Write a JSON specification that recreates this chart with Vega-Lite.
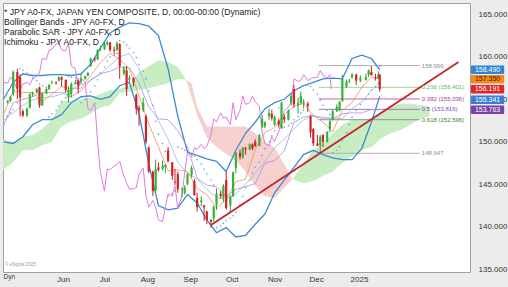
{
  "$schema": "https://vega.github.io/schema/vega-lite/v6.json",
  "width": 467,
  "height": 269,
  "autosize": "none",
  "padding": {"left": 3, "top": 3, "right": 38, "bottom": 15},
  "background": "#ececec",
  "title": {
    "text": ["* JPY A0-FX, JAPAN YEN COMPOSITE, D, 00:00-00:00 (Dynamic)", "Bollinger Bands - JPY A0-FX, D", "Parabolic SAR - JPY A0-FX, D", "Ichimoku - JPY A0-FX, D"],
    "anchor": "start", "frame": "group", "orient": "top", "baseline": "top", "offset": -44, "dx": 1,
    "font": "Liberation Sans Narrow, Arial Narrow, sans-serif", "fontSize": 8.6, "fontWeight": "normal", "color": "#222", "lineHeight": 10.2
  },
  "config": {
    "view": {"fill": "white", "stroke": "#a0a0a0", "strokeWidth": 1},
    "scale": {"continuousPadding": 0},
    "axis": {"labelFont": "Liberation Sans Narrow, Arial Narrow, sans-serif", "labelColor": "#333", "grid": false, "ticks": false, "domain": false}
  },
  "resolve": {"scale": {"color": "independent"}},
  "datasets": {
    "candles": [
      {"d":"2024-04-22","o":154.6,"h":154.9,"l":154.5,"c":154.8,"s":153.0,"k":"2024-03-18"},
      {"d":"2024-04-24","o":154.8,"h":155.4,"l":154.7,"c":155.3,"s":153.4,"k":"2024-03-20"},
      {"d":"2024-04-26","o":155.6,"h":158.4,"l":155.4,"c":158.2,"s":153.8,"k":"2024-03-22"},
      {"d":"2024-04-29","o":158.2,"h":158.6,"l":155.0,"c":156.3,"s":154.6,"k":"2024-03-25"},
      {"d":"2024-05-01","o":157.6,"h":157.9,"l":153.0,"c":155.2,"s":158.6,"k":"2024-03-27"},
      {"d":"2024-05-03","o":153.6,"h":153.8,"l":152.9,"c":153.1,"s":158.4,"k":"2024-03-29"},
      {"d":"2024-05-06","o":153.1,"h":154.0,"l":152.9,"c":153.9,"s":158.1,"k":"2024-04-01"},
      {"d":"2024-05-08","o":154.0,"h":155.7,"l":153.9,"c":155.6,"s":157.8,"k":"2024-04-03"},
      {"d":"2024-05-10","o":155.6,"h":155.9,"l":155.3,"c":155.8,"s":157.5,"k":"2024-04-05"},
      {"d":"2024-05-13","o":155.8,"h":156.3,"l":155.7,"c":156.2,"s":157.2,"k":"2024-04-08"},
      {"d":"2024-05-15","o":156.4,"h":156.5,"l":154.0,"c":154.3,"s":156.8,"k":"2024-04-10"},
      {"d":"2024-05-17","o":154.3,"h":155.8,"l":154.2,"c":155.7,"s":156.6,"k":"2024-04-12"},
      {"d":"2024-05-20","o":155.7,"h":156.3,"l":155.6,"c":156.2,"s":156.4,"k":"2024-04-15"},
      {"d":"2024-05-22","o":156.2,"h":156.8,"l":156.1,"c":156.7,"s":152.9,"k":"2024-04-17"},
      {"d":"2024-05-24","o":156.9,"h":157.2,"l":156.8,"c":157.0,"s":153.3,"k":"2024-04-19"},
      {"d":"2024-05-27","o":157.0,"h":157.1,"l":156.7,"c":156.9,"s":153.7,"k":"2024-04-22"},
      {"d":"2024-05-29","o":157.2,"h":157.7,"l":157.1,"c":157.6,"s":154.2,"k":"2024-04-24"},
      {"d":"2024-05-31","o":157.6,"h":157.7,"l":156.5,"c":157.3,"s":154.7,"k":"2024-04-26"},
      {"d":"2024-06-03","o":157.3,"h":157.3,"l":155.8,"c":156.1,"s":155.2,"k":"2024-04-29"},
      {"d":"2024-06-05","o":155.2,"h":156.5,"l":154.6,"c":156.1,"s":157.7,"k":"2024-05-01"},
      {"d":"2024-06-07","o":155.6,"h":157.0,"l":155.2,"c":156.8,"s":157.6,"k":"2024-05-03"},
      {"d":"2024-06-10","o":156.8,"h":157.3,"l":156.7,"c":157.0,"s":157.5,"k":"2024-05-06"},
      {"d":"2024-06-12","o":157.2,"h":157.3,"l":155.7,"c":156.7,"s":157.4,"k":"2024-05-08"},
      {"d":"2024-06-14","o":157.1,"h":158.0,"l":156.8,"c":157.4,"s":154.6,"k":"2024-05-10"},
      {"d":"2024-06-17","o":157.4,"h":157.8,"l":157.3,"c":157.7,"s":155.0,"k":"2024-05-13"},
      {"d":"2024-06-19","o":157.8,"h":158.2,"l":157.7,"c":158.1,"s":155.4,"k":"2024-05-15"},
      {"d":"2024-06-21","o":158.9,"h":159.9,"l":158.8,"c":159.8,"s":155.9,"k":"2024-05-17"},
      {"d":"2024-06-24","o":159.8,"h":159.9,"l":159.4,"c":159.7,"s":156.6,"k":"2024-05-20"},
      {"d":"2024-06-26","o":159.7,"h":160.9,"l":159.6,"c":160.8,"s":157.3,"k":"2024-05-22"},
      {"d":"2024-06-28","o":160.8,"h":161.3,"l":160.7,"c":160.9,"s":158.1,"k":"2024-05-24"},
      {"d":"2024-07-01","o":160.9,"h":161.7,"l":160.8,"c":161.5,"s":158.8,"k":"2024-05-27"},
      {"d":"2024-07-03","o":161.5,"h":161.9,"l":161.3,"c":161.7,"s":159.5,"k":"2024-05-29"},
      {"d":"2024-07-05","o":161.7,"h":161.7,"l":160.6,"c":160.8,"s":160.0,"k":"2024-05-31"},
      {"d":"2024-07-08","o":160.8,"h":161.2,"l":160.3,"c":160.7,"s":160.2,"k":"2024-06-03"},
      {"d":"2024-07-10","o":160.8,"h":161.8,"l":160.7,"c":161.6,"s":160.4,"k":"2024-06-05"},
      {"d":"2024-07-12","o":161.5,"h":161.6,"l":157.4,"c":158.9,"s":161.9,"k":"2024-06-07"},
      {"d":"2024-07-15","o":158.0,"h":158.9,"l":157.8,"c":158.6,"s":161.7,"k":"2024-06-10"},
      {"d":"2024-07-17","o":158.4,"h":158.9,"l":155.4,"c":156.2,"s":161.4,"k":"2024-06-12"},
      {"d":"2024-07-19","o":157.3,"h":157.8,"l":157.0,"c":157.5,"s":161.0,"k":"2024-06-14"},
      {"d":"2024-07-22","o":157.5,"h":157.6,"l":156.5,"c":157.0,"s":160.5,"k":"2024-06-17"},
      {"d":"2024-07-24","o":155.5,"h":155.7,"l":153.2,"c":153.9,"s":159.9,"k":"2024-06-19"},
      {"d":"2024-07-26","o":154.0,"h":154.3,"l":151.9,"c":153.7,"s":159.1,"k":"2024-06-21"},
      {"d":"2024-07-29","o":153.7,"h":155.2,"l":153.5,"c":154.6,"s":158.3,"k":"2024-06-24"},
      {"d":"2024-07-31","o":153.0,"h":153.2,"l":149.7,"c":150.0,"s":157.4,"k":"2024-06-26"},
      {"d":"2024-08-02","o":149.3,"h":149.5,"l":146.3,"c":146.5,"s":156.0,"k":"2024-06-28"},
      {"d":"2024-08-05","o":146.5,"h":146.6,"l":143.6,"c":144.2,"s":154.3,"k":"2024-07-01"},
      {"d":"2024-08-07","o":144.3,"h":147.9,"l":144.0,"c":146.8,"s":152.4,"k":"2024-07-03"},
      {"d":"2024-08-09","o":147.0,"h":147.6,"l":146.5,"c":146.7,"s":150.9,"k":"2024-07-05"},
      {"d":"2024-08-12","o":146.8,"h":147.8,"l":146.6,"c":147.2,"s":149.8,"k":"2024-07-08"},
      {"d":"2024-08-14","o":147.0,"h":147.3,"l":146.3,"c":147.3,"s":148.9,"k":"2024-07-10"},
      {"d":"2024-08-16","o":149.0,"h":149.4,"l":147.6,"c":147.7,"s":143.6,"k":"2024-07-12"},
      {"d":"2024-08-19","o":147.6,"h":147.6,"l":145.5,"c":146.0,"s":143.9,"k":"2024-07-15"},
      {"d":"2024-08-21","o":145.3,"h":146.8,"l":144.9,"c":145.2,"s":144.2,"k":"2024-07-17"},
      {"d":"2024-08-23","o":146.2,"h":146.5,"l":144.0,"c":144.4,"s":149.4,"k":"2024-07-19"},
      {"d":"2024-08-26","o":144.4,"h":144.6,"l":143.5,"c":144.5,"s":149.2,"k":"2024-07-22"},
      {"d":"2024-08-28","o":144.0,"h":144.9,"l":143.8,"c":144.6,"s":149.0,"k":"2024-07-24"},
      {"d":"2024-08-30","o":145.0,"h":146.3,"l":144.9,"c":146.2,"s":148.8,"k":"2024-07-26"},
      {"d":"2024-09-02","o":146.1,"h":147.2,"l":145.8,"c":146.9,"s":148.5,"k":"2024-07-29"},
      {"d":"2024-09-04","o":145.4,"h":145.6,"l":143.7,"c":143.7,"s":148.3,"k":"2024-07-31"},
      {"d":"2024-09-06","o":143.4,"h":144.0,"l":141.8,"c":142.3,"s":147.9,"k":"2024-08-02"},
      {"d":"2024-09-09","o":142.9,"h":143.6,"l":142.4,"c":143.1,"s":147.4,"k":"2024-08-05"},
      {"d":"2024-09-11","o":142.5,"h":142.6,"l":140.7,"c":142.3,"s":146.8,"k":"2024-08-07"},
      {"d":"2024-09-13","o":141.8,"h":141.9,"l":140.3,"c":140.8,"s":146.2,"k":"2024-08-09"},
      {"d":"2024-09-16","o":140.8,"h":140.9,"l":139.9,"c":140.6,"s":145.5,"k":"2024-08-12"},
      {"d":"2024-09-18","o":141.0,"h":142.5,"l":140.6,"c":142.3,"s":144.9,"k":"2024-08-14"},
      {"d":"2024-09-20","o":142.6,"h":144.5,"l":142.0,"c":143.9,"s":139.9,"k":"2024-08-16"},
      {"d":"2024-09-23","o":143.9,"h":144.2,"l":143.3,"c":143.6,"s":140.1,"k":"2024-08-19"},
      {"d":"2024-09-25","o":143.4,"h":145.0,"l":142.9,"c":144.8,"s":140.4,"k":"2024-08-21"},
      {"d":"2024-09-27","o":145.5,"h":146.5,"l":142.0,"c":142.2,"s":140.7,"k":"2024-08-23"},
      {"d":"2024-09-30","o":142.5,"h":143.7,"l":141.7,"c":143.6,"s":141.0,"k":"2024-08-26"},
      {"d":"2024-10-02","o":143.6,"h":146.5,"l":143.5,"c":146.4,"s":141.3,"k":"2024-08-28"},
      {"d":"2024-10-04","o":146.9,"h":148.8,"l":146.3,"c":148.7,"s":141.7,"k":"2024-08-30"},
      {"d":"2024-10-07","o":148.7,"h":149.1,"l":147.9,"c":148.2,"s":142.6,"k":"2024-09-02"},
      {"d":"2024-10-09","o":148.2,"h":149.4,"l":148.0,"c":149.3,"s":143.6,"k":"2024-09-04"},
      {"d":"2024-10-11","o":149.3,"h":149.4,"l":148.5,"c":149.1,"s":144.6,"k":"2024-09-06"},
      {"d":"2024-10-14","o":149.1,"h":149.8,"l":149.0,"c":149.7,"s":145.5,"k":"2024-09-09"},
      {"d":"2024-10-16","o":149.7,"h":149.8,"l":149.0,"c":149.2,"s":146.3,"k":"2024-09-11"},
      {"d":"2024-10-18","o":150.0,"h":150.3,"l":149.4,"c":149.5,"s":147.0,"k":"2024-09-13"},
      {"d":"2024-10-21","o":149.5,"h":150.9,"l":149.5,"c":150.8,"s":147.6,"k":"2024-09-16"},
      {"d":"2024-10-23","o":151.8,"h":153.2,"l":151.6,"c":152.7,"s":148.4,"k":"2024-09-18"},
      {"d":"2024-10-25","o":151.8,"h":152.4,"l":151.6,"c":152.3,"s":149.2,"k":"2024-09-20"},
      {"d":"2024-10-28","o":153.0,"h":153.9,"l":152.6,"c":153.4,"s":150.0,"k":"2024-09-23"},
      {"d":"2024-10-30","o":153.3,"h":153.8,"l":152.5,"c":152.8,"s":150.7,"k":"2024-09-25"},
      {"d":"2024-11-01","o":152.0,"h":153.1,"l":151.9,"c":152.9,"s":151.3,"k":"2024-09-27"},
      {"d":"2024-11-04","o":152.5,"h":152.7,"l":151.7,"c":152.0,"s":154.0,"k":"2024-09-30"},
      {"d":"2024-11-06","o":151.6,"h":154.7,"l":151.6,"c":154.6,"s":151.6,"k":"2024-10-02"},
      {"d":"2024-11-08","o":152.9,"h":153.2,"l":152.2,"c":152.6,"s":151.7,"k":"2024-10-04"},
      {"d":"2024-11-11","o":152.6,"h":153.8,"l":152.5,"c":153.7,"s":151.9,"k":"2024-10-07"},
      {"d":"2024-11-13","o":154.6,"h":155.6,"l":154.3,"c":155.4,"s":152.2,"k":"2024-10-09"},
      {"d":"2024-11-15","o":156.2,"h":156.7,"l":154.0,"c":154.4,"s":152.6,"k":"2024-10-11"},
      {"d":"2024-11-18","o":154.3,"h":155.2,"l":153.3,"c":154.6,"s":153.0,"k":"2024-10-14"},
      {"d":"2024-11-20","o":154.6,"h":155.9,"l":154.4,"c":155.4,"s":153.4,"k":"2024-10-16"},
      {"d":"2024-11-22","o":154.5,"h":155.0,"l":153.9,"c":154.7,"s":153.7,"k":"2024-10-18"},
      {"d":"2024-11-25","o":154.5,"h":154.7,"l":153.5,"c":154.2,"s":156.7,"k":"2024-10-21"},
      {"d":"2024-11-27","o":153.0,"h":153.2,"l":150.5,"c":151.1,"s":156.5,"k":"2024-10-23"},
      {"d":"2024-11-29","o":151.5,"h":151.6,"l":149.5,"c":149.8,"s":156.1,"k":"2024-10-25"},
      {"d":"2024-12-02","o":149.8,"h":150.8,"l":149.6,"c":149.5,"s":155.6,"k":"2024-10-28"},
      {"d":"2024-12-04","o":149.6,"h":150.8,"l":148.7,"c":150.6,"s":154.9,"k":"2024-10-30"},
      {"d":"2024-12-06","o":150.8,"h":150.9,"l":149.4,"c":150.0,"s":154.3,"k":"2024-11-01"},
      {"d":"2024-12-09","o":150.0,"h":151.2,"l":149.9,"c":151.2,"s":153.7,"k":"2024-11-04"},
      {"d":"2024-12-11","o":151.5,"h":152.6,"l":151.1,"c":152.4,"s":153.2,"k":"2024-11-06"},
      {"d":"2024-12-13","o":152.6,"h":153.8,"l":152.5,"c":153.6,"s":148.7,"k":"2024-11-08"},
      {"d":"2024-12-16","o":153.6,"h":154.4,"l":153.5,"c":154.1,"s":149.0,"k":"2024-11-11"},
      {"d":"2024-12-18","o":153.7,"h":154.8,"l":153.6,"c":154.7,"s":149.4,"k":"2024-11-13"},
      {"d":"2024-12-20","o":154.8,"h":157.9,"l":154.7,"c":157.4,"s":150.1,"k":"2024-11-15"},
      {"d":"2024-12-23","o":156.5,"h":157.3,"l":156.3,"c":157.1,"s":151.1,"k":"2024-11-18"},
      {"d":"2024-12-25","o":157.1,"h":157.4,"l":156.9,"c":157.2,"s":152.0,"k":"2024-11-20"},
      {"d":"2024-12-27","o":157.6,"h":158.1,"l":157.4,"c":157.9,"s":152.9,"k":"2024-11-22"},
      {"d":"2024-12-30","o":157.9,"h":158.0,"l":156.7,"c":157.2,"s":153.7,"k":"2024-11-25"},
      {"d":"2025-01-02","o":157.2,"h":157.8,"l":157.0,"c":157.5,"s":154.4,"k":"2024-11-28"},
      {"d":"2025-01-06","o":157.3,"h":158.0,"l":157.2,"c":157.6,"s":155.0,"k":"2024-12-02"},
      {"d":"2025-01-08","o":157.9,"h":158.5,"l":157.6,"c":158.4,"s":155.6,"k":"2024-12-04"},
      {"d":"2025-01-10","o":158.2,"h":158.9,"l":157.9,"c":157.8,"s":156.1,"k":"2024-12-06"},
      {"d":"2025-01-13","o":157.6,"h":158.0,"l":157.2,"c":157.5,"s":156.5,"k":"2024-12-09"},
      {"d":"2025-01-15","o":157.5,"h":158.3,"l":157.4,"c":157.9,"s":156.9,"k":"2024-12-11"},
      {"d":"2025-01-16","o":157.9,"h":158.0,"l":155.9,"c":156.19,"s":158.9,"k":"2024-12-12"}
    ],
    "bb": [
      {"d":"2024-04-19","u":155.0,"m":152.5,"l":150.0},
      {"d":"2024-04-26","u":157.0,"m":153.4,"l":149.8},
      {"d":"2024-05-03","u":158.0,"m":154.3,"l":150.6},
      {"d":"2024-05-10","u":157.8,"m":154.9,"l":152.0},
      {"d":"2024-05-17","u":157.8,"m":155.2,"l":152.6},
      {"d":"2024-05-24","u":157.9,"m":155.3,"l":152.6},
      {"d":"2024-05-31","u":157.9,"m":155.6,"l":153.2},
      {"d":"2024-06-07","u":157.8,"m":156.2,"l":154.6},
      {"d":"2024-06-14","u":158.0,"m":156.7,"l":155.3},
      {"d":"2024-06-21","u":159.1,"m":157.2,"l":155.4},
      {"d":"2024-06-28","u":161.0,"m":158.0,"l":155.0},
      {"d":"2024-07-05","u":162.8,"m":159.0,"l":155.3},
      {"d":"2024-07-12","u":163.5,"m":160.0,"l":156.6},
      {"d":"2024-07-19","u":164.0,"m":160.4,"l":157.0},
      {"d":"2024-07-26","u":163.9,"m":158.6,"l":153.3},
      {"d":"2024-08-02","u":163.6,"m":155.5,"l":147.4},
      {"d":"2024-08-09","u":162.5,"m":152.5,"l":142.5},
      {"d":"2024-08-16","u":158.6,"m":150.3,"l":142.0},
      {"d":"2024-08-23","u":153.0,"m":147.6,"l":142.2},
      {"d":"2024-08-30","u":148.8,"m":146.3,"l":143.8},
      {"d":"2024-09-06","u":148.4,"m":145.6,"l":142.8},
      {"d":"2024-09-13","u":148.0,"m":144.4,"l":140.8},
      {"d":"2024-09-20","u":147.7,"m":143.5,"l":139.3},
      {"d":"2024-09-27","u":146.5,"m":143.2,"l":139.9},
      {"d":"2024-10-04","u":149.0,"m":143.9,"l":138.8},
      {"d":"2024-10-11","u":151.0,"m":145.0,"l":139.0},
      {"d":"2024-10-18","u":152.3,"m":146.3,"l":140.3},
      {"d":"2024-10-25","u":153.9,"m":147.7,"l":141.5},
      {"d":"2024-11-01","u":154.6,"m":149.3,"l":144.0},
      {"d":"2024-11-08","u":155.0,"m":150.3,"l":145.5},
      {"d":"2024-11-15","u":156.0,"m":151.5,"l":147.0},
      {"d":"2024-11-22","u":156.6,"m":152.6,"l":148.5},
      {"d":"2024-11-29","u":157.0,"m":153.0,"l":149.0},
      {"d":"2024-12-06","u":157.4,"m":152.9,"l":148.5},
      {"d":"2024-12-13","u":157.5,"m":152.8,"l":148.1},
      {"d":"2024-12-20","u":157.4,"m":152.7,"l":147.9},
      {"d":"2024-12-27","u":159.8,"m":153.9,"l":147.9},
      {"d":"2025-01-03","u":160.2,"m":154.7,"l":149.2},
      {"d":"2025-01-10","u":159.8,"m":156.0,"l":152.3},
      {"d":"2025-01-16","u":158.49,"m":156.92,"l":155.34}
    ],
    "ich": [
      {"d":"2024-04-19","t":153.2,"kj":151.9},
      {"d":"2024-04-26","t":156.0,"kj":154.6},
      {"d":"2024-05-03","t":155.8,"kj":155.0},
      {"d":"2024-05-10","t":155.8,"kj":155.3},
      {"d":"2024-05-17","t":154.7,"kj":155.8},
      {"d":"2024-05-24","t":155.6,"kj":155.8},
      {"d":"2024-05-31","t":156.5,"kj":155.8},
      {"d":"2024-06-07","t":156.2,"kj":155.3},
      {"d":"2024-06-14","t":156.3,"kj":156.0},
      {"d":"2024-06-21","t":157.8,"kj":157.3},
      {"d":"2024-06-28","t":159.3,"kj":158.0},
      {"d":"2024-07-05","t":160.4,"kj":158.3},
      {"d":"2024-07-12","t":159.7,"kj":158.8},
      {"d":"2024-07-19","t":158.6,"kj":158.7},
      {"d":"2024-07-26","t":155.4,"kj":156.9},
      {"d":"2024-08-02","t":152.1,"kj":154.1},
      {"d":"2024-08-09","t":149.4,"kj":152.7},
      {"d":"2024-08-16","t":146.6,"kj":152.6},
      {"d":"2024-08-23","t":146.7,"kj":151.3},
      {"d":"2024-08-30","t":146.5,"kj":149.4},
      {"d":"2024-09-06","t":144.5,"kj":145.7},
      {"d":"2024-09-13","t":143.8,"kj":144.9},
      {"d":"2024-09-20","t":142.2,"kj":144.7},
      {"d":"2024-09-27","t":143.2,"kj":143.6},
      {"d":"2024-10-04","t":145.3,"kj":144.4},
      {"d":"2024-10-11","t":145.6,"kj":144.7},
      {"d":"2024-10-18","t":149.1,"kj":145.1},
      {"d":"2024-10-25","t":151.1,"kj":147.5},
      {"d":"2024-11-01","t":151.7,"kj":147.8},
      {"d":"2024-11-08","t":153.2,"kj":148.9},
      {"d":"2024-11-15","t":154.2,"kj":152.3},
      {"d":"2024-11-22","t":154.5,"kj":152.9},
      {"d":"2024-11-29","t":153.1,"kj":153.1},
      {"d":"2024-12-06","t":152.3,"kj":152.7},
      {"d":"2024-12-13","t":151.2,"kj":152.7},
      {"d":"2024-12-20","t":153.7,"kj":153.3},
      {"d":"2024-12-27","t":154.6,"kj":153.4},
      {"d":"2025-01-03","t":156.4,"kj":153.4},
      {"d":"2025-01-10","t":157.6,"kj":153.8},
      {"d":"2025-01-16","t":157.35,"kj":153.76}
    ],
    "cloud": [
      {"d":"2024-04-12","a":150.0,"b":146.4,"g":"g1"},
      {"d":"2024-04-19","a":150.3,"b":146.7,"g":"g1"},
      {"d":"2024-04-26","a":150.0,"b":147.6,"g":"g1"},
      {"d":"2024-05-03","a":150.6,"b":149.0,"g":"g1"},
      {"d":"2024-05-10","a":150.8,"b":149.0,"g":"g1"},
      {"d":"2024-05-17","a":151.5,"b":149.6,"g":"g1"},
      {"d":"2024-05-24","a":152.6,"b":150.0,"g":"g1"},
      {"d":"2024-05-31","a":154.8,"b":151.8,"g":"g1"},
      {"d":"2024-06-07","a":154.8,"b":152.4,"g":"g1"},
      {"d":"2024-06-14","a":155.0,"b":152.7,"g":"g1"},
      {"d":"2024-06-21","a":155.2,"b":153.3,"g":"g1"},
      {"d":"2024-06-28","a":155.6,"b":154.0,"g":"g1"},
      {"d":"2024-07-05","a":156.1,"b":154.3,"g":"g1"},
      {"d":"2024-07-12","a":156.2,"b":155.7,"g":"g1"},
      {"d":"2024-07-19","a":156.6,"b":155.9,"g":"g1"},
      {"d":"2024-07-26","a":158.2,"b":156.1,"g":"g1"},
      {"d":"2024-08-02","a":158.9,"b":156.3,"g":"g1"},
      {"d":"2024-08-09","a":159.6,"b":156.6,"g":"g1"},
      {"d":"2024-08-16","a":159.4,"b":156.9,"g":"g1"},
      {"d":"2024-08-23","a":158.8,"b":157.4,"g":"g1"},
      {"d":"2024-08-29","a":157.3,"b":157.3,"g":"g1"},
      {"d":"2024-08-29","a":157.3,"b":157.3,"g":"p1"},
      {"d":"2024-09-02","a":155.2,"b":156.9,"g":"p1"},
      {"d":"2024-09-06","a":153.1,"b":154.1,"g":"p1"},
      {"d":"2024-09-13","a":150.5,"b":151.8,"g":"p1"},
      {"d":"2024-09-20","a":149.4,"b":151.8,"g":"p1"},
      {"d":"2024-09-27","a":148.6,"b":151.8,"g":"p1"},
      {"d":"2024-10-04","a":147.8,"b":151.8,"g":"p1"},
      {"d":"2024-10-11","a":146.5,"b":151.8,"g":"p1"},
      {"d":"2024-10-18","a":144.8,"b":151.0,"g":"p1"},
      {"d":"2024-10-25","a":143.6,"b":150.0,"g":"p1"},
      {"d":"2024-11-01","a":143.4,"b":149.3,"g":"p1"},
      {"d":"2024-11-08","a":144.6,"b":147.4,"g":"p1"},
      {"d":"2024-11-14","a":145.6,"b":145.6,"g":"p1"},
      {"d":"2024-11-14","a":145.6,"b":145.6,"g":"g2"},
      {"d":"2024-11-22","a":147.5,"b":145.1,"g":"g2"},
      {"d":"2024-11-29","a":149.0,"b":145.4,"g":"g2"},
      {"d":"2024-12-06","a":149.8,"b":146.0,"g":"g2"},
      {"d":"2024-12-13","a":151.0,"b":146.5,"g":"g2"},
      {"d":"2024-12-20","a":152.0,"b":147.5,"g":"g2"},
      {"d":"2024-12-27","a":152.6,"b":148.3,"g":"g2"},
      {"d":"2025-01-03","a":152.7,"b":149.0,"g":"g2"},
      {"d":"2025-01-10","a":152.7,"b":149.4,"g":"g2"},
      {"d":"2025-01-17","a":153.6,"b":150.4,"g":"g2"},
      {"d":"2025-01-24","a":154.1,"b":151.0,"g":"g2"},
      {"d":"2025-01-31","a":154.5,"b":151.4,"g":"g2"},
      {"d":"2025-02-07","a":154.5,"b":152.0,"g":"g2"},
      {"d":"2025-02-14","a":154.3,"b":152.7,"g":"g2"},
      {"d":"2025-02-21","a":154.2,"b":153.0,"g":"g2"}
    ],
    "fib": [
      {"d":"2024-12-03","e":"2025-02-14","v":158.966,"lab":"158.966","lv":"1"},
      {"d":"2024-12-03","e":"2025-02-14","v":156.401,"lab":"0.236 (156.401)","lv":"0.236"},
      {"d":"2024-12-03","e":"2025-02-14","v":155.036,"lab":"0.382 (155.036)","lv":"0.382"},
      {"d":"2024-12-03","e":"2025-02-14","v":153.816,"lab":"0.5 (153.816)","lv":"0.5"},
      {"d":"2024-12-03","e":"2025-02-14","v":152.596,"lab":"0.618 (152.596)","lv":"0.618"},
      {"d":"2024-12-03","e":"2025-02-14","v":148.647,"lab":"148.647","lv":"0"}
    ],
    "trend": [
      {"d":"2024-09-16","v":140.2},
      {"d":"2025-03-14","v":159.4}
    ],
    "tags": [
      {"v":158.490,"t":"158.490","s":"BB upper"},
      {"v":157.350,"t":"157.350","s":"Tenkan"},
      {"v":155.341,"t":"155.341","s":"BB lower"},
      {"v":153.763,"t":"153.763","s":"Kijun"},
      {"v":156.191,"t":"156.191","s":"Last"}
    ],
    "notes": [
      {"t":"Dyn","p":"axis"},
      {"t":"© eSignal 2025","p":"mark"}
    ]
  },
  "layer": [
    {
      "data": {"name": "cloud"},
      "mark": {"type": "area", "clip": true, "opacity": 1},
      "encoding": {
        "x": {"field": "d", "type": "temporal", "title": null,
          "scale": {"type": "utc", "nice": false, "padding": 0, "domain": [{"year":2024,"month":4,"date":18,"hours":15,"utc":true}, {"year":2025,"month":3,"date":22,"hours":7,"utc":true}]},
          "axis": {"orient": "bottom", "labelFontSize": 8, "labelPadding": 3, "labelBaseline": "top",
            "values": [{"year":2024,"month":6,"date":1,"utc":true},{"year":2024,"month":7,"date":1,"utc":true},{"year":2024,"month":8,"date":1,"utc":true},{"year":2024,"month":9,"date":1,"utc":true},{"year":2024,"month":10,"date":1,"utc":true},{"year":2024,"month":11,"date":1,"utc":true},{"year":2024,"month":12,"date":1,"utc":true},{"year":2025,"month":1,"date":1,"utc":true}],
            "labelExpr": "utcFormat(datum.value, '%m') == '01' ? utcFormat(datum.value, '%Y') : utcFormat(datum.value, '%b')"}},
        "y": {"field": "a", "type": "quantitative", "title": null,
          "scale": {"domain": [134.68, 166.33], "nice": false, "zero": false, "padding": 0},
          "axis": {"orient": "right", "labelFontSize": 8, "labelPadding": 8, "format": ".3f",
            "values": [135, 137.5, 140, 142.5, 145, 147.5, 150, 152.5, 155, 157.5, 160, 162.5, 165]}},
        "y2": {"field": "b"},
        "color": {"field": "g", "type": "nominal", "legend": null,
          "scale": {"domain": ["g1", "p1", "g2"], "range": ["#c9edc3", "#f6d0cf", "#c9edc3"]}}
      }
    },
    {
      "data": {"name": "fib"},
      "mark": {"type": "rule", "strokeWidth": 1},
      "encoding": {
        "x": {"field": "d", "type": "temporal", "title": null},
        "x2": {"field": "e"},
        "y": {"field": "v", "type": "quantitative", "title": null},
        "color": {"field": "lv", "type": "nominal", "legend": null,
          "scale": {"domain": ["1", "0.236", "0.382", "0.5", "0.618", "0"], "range": ["#b4b4b4", "#a6d88f", "#d65a9c", "#a274d2", "#909090", "#b0b0b0"]}}
      }
    },
    {
      "data": {"name": "bb"},
      "mark": {"type": "line", "clip": true, "color": "#3b8bd4", "strokeWidth": 1.3},
      "encoding": {
        "x": {"field": "d", "type": "temporal", "title": null},
        "y": {"field": "u", "type": "quantitative", "title": null}
      }
    },
    {
      "data": {"name": "bb"},
      "mark": {"type": "line", "clip": true, "color": "#3b8bd4", "strokeWidth": 1.3},
      "encoding": {
        "x": {"field": "d", "type": "temporal", "title": null},
        "y": {"field": "l", "type": "quantitative", "title": null}
      }
    },
    {
      "data": {"name": "bb"},
      "mark": {"type": "line", "clip": true, "color": "#8fbbe6", "strokeWidth": 0.8},
      "encoding": {
        "x": {"field": "d", "type": "temporal", "title": null},
        "y": {"field": "m", "type": "quantitative", "title": null}
      }
    },
    {
      "data": {"name": "ich"},
      "mark": {"type": "line", "clip": true, "color": "#f0915a", "strokeWidth": 0.8},
      "encoding": {
        "x": {"field": "d", "type": "temporal", "title": null},
        "y": {"field": "t", "type": "quantitative", "title": null}
      }
    },
    {
      "data": {"name": "ich"},
      "mark": {"type": "line", "clip": true, "color": "#b08fcf", "strokeWidth": 0.8},
      "encoding": {
        "x": {"field": "d", "type": "temporal", "title": null},
        "y": {"field": "kj", "type": "quantitative", "title": null}
      }
    },
    {
      "data": {"name": "candles"},
      "mark": {"type": "line", "clip": true, "color": "#e07ae0", "strokeWidth": 1},
      "encoding": {
        "x": {"field": "k", "type": "temporal", "title": null},
        "y": {"field": "c", "type": "quantitative", "title": null}
      }
    },
    {
      "data": {"name": "candles"},
      "mark": {"type": "circle", "clip": true, "color": "#5d8fd6", "size": 2.5, "opacity": 0.9},
      "encoding": {
        "x": {"field": "d", "type": "temporal", "title": null},
        "y": {"field": "s", "type": "quantitative", "title": null}
      }
    },
    {
      "data": {"name": "candles"},
      "mark": {"type": "rule", "clip": true, "strokeWidth": 1},
      "encoding": {
        "x": {"field": "d", "type": "temporal", "title": null},
        "y": {"field": "l", "type": "quantitative", "title": null},
        "y2": {"field": "h"},
        "color": {"condition": {"test": "datum.c >= datum.o", "value": "#2f9e2f"}, "value": "#c42020"}
      }
    },
    {
      "data": {"name": "candles"},
      "mark": {"type": "bar", "clip": true, "width": 2.2},
      "encoding": {
        "x": {"field": "d", "type": "temporal", "title": null},
        "y": {"field": "o", "type": "quantitative", "title": null},
        "y2": {"field": "c"},
        "color": {"condition": {"test": "datum.c >= datum.o", "value": "#35b335"}, "value": "#d42222"}
      }
    },
    {
      "data": {"name": "trend"},
      "mark": {"type": "line", "clip": true, "color": "#c0262c", "strokeWidth": 1.8},
      "encoding": {
        "x": {"field": "d", "type": "temporal", "title": null},
        "y": {"field": "v", "type": "quantitative", "title": null}
      }
    },
    {
      "data": {"name": "fib"},
      "mark": {"type": "text", "align": "left", "baseline": "middle", "dx": 2, "fontSize": 6, "font": "Liberation Sans Narrow, Arial Narrow, sans-serif"},
      "encoding": {
        "x": {"field": "e", "type": "temporal", "title": null},
        "y": {"field": "v", "type": "quantitative", "title": null},
        "text": {"field": "lab"},
        "color": {"field": "lv", "type": "nominal", "legend": null,
          "scale": {"domain": ["1", "0.236", "0.382", "0.5", "0.618", "0"], "range": ["#8c8c8c", "#6bb452", "#a8408c", "#7a4cc2", "#3f7a3a", "#8c8c8c"]}}
      }
    },
    {
      "data": {"name": "notes"},
      "transform": [{"filter": "datum.p == 'mark'"}],
      "mark": {"type": "text", "align": "left", "baseline": "middle", "fontSize": 4.5, "color": "#9a9a9a", "font": "Liberation Sans Narrow, Arial Narrow, sans-serif"},
      "encoding": {
        "x": {"datum": {"year":2024,"month":4,"date":20,"utc":true}, "type": "temporal"},
        "y": {"datum": 135.5, "type": "quantitative"},
        "text": {"field": "t"}
      }
    },
    {
      "data": {"name": "notes"},
      "transform": [{"filter": "datum.p == 'axis'"}],
      "mark": {"type": "text", "clip": false, "align": "left", "baseline": "middle", "fontSize": 6.5, "color": "#333", "font": "Liberation Sans Narrow, Arial Narrow, sans-serif"},
      "encoding": {
        "x": {"datum": {"year":2024,"month":4,"date":19,"utc":true}, "type": "temporal"},
        "y": {"datum": 134.05, "type": "quantitative"},
        "text": {"field": "t"}
      }
    },
    {
      "data": {"name": "tags"},
      "transform": [{"filter": "datum.s != 'BB lower'"}],
      "mark": {"type": "bar", "clip": false, "height": 8.5, "orient": "horizontal", "cornerRadius": 1},
      "encoding": {
        "x": {"datum": {"year":2025,"month":3,"date":23,"utc":true}, "type": "temporal"},
        "x2": {"datum": {"year":2025,"month":4,"date":16,"utc":true}},
        "y": {"field": "v", "type": "quantitative", "title": null},
        "color": {"field": "s", "type": "nominal", "legend": null,
          "scale": {"domain": ["BB upper", "Tenkan", "Last", "BB lower", "Kijun"], "range": ["#2f86d6", "#f28a1c", "#e02626", "#3a7fd2", "#7b3fa8"]}}
      }
    },
    {
      "data": {"name": "tags"},
      "transform": [{"filter": "datum.s == 'BB lower'"}],
      "mark": {"type": "bar", "clip": false, "height": 8.5, "orient": "horizontal", "cornerRadius": 1, "yOffset": 3.3, "color": "#3a7fd2"},
      "encoding": {
        "x": {"datum": {"year":2025,"month":3,"date":23,"utc":true}, "type": "temporal"},
        "x2": {"datum": {"year":2025,"month":4,"date":16,"utc":true}},
        "y": {"field": "v", "type": "quantitative", "title": null}
      }
    },
    {
      "data": {"name": "tags"},
      "transform": [{"filter": "datum.s != 'BB lower'"}],
      "mark": {"type": "text", "clip": false, "align": "center", "baseline": "middle", "fontSize": 7, "font": "Liberation Sans Narrow, Arial Narrow, sans-serif"},
      "encoding": {
        "x": {"datum": {"year":2025,"month":4,"date":4,"utc":true}, "type": "temporal"},
        "y": {"field": "v", "type": "quantitative", "title": null},
        "text": {"field": "t"},
        "color": {"condition": {"test": "datum.s == 'Tenkan'", "value": "#4a1a00"}, "value": "white"}
      }
    },
    {
      "data": {"name": "tags"},
      "transform": [{"filter": "datum.s == 'BB lower'"}],
      "mark": {"type": "text", "clip": false, "align": "center", "baseline": "middle", "fontSize": 7, "dy": 3.3, "color": "white", "font": "Liberation Sans Narrow, Arial Narrow, sans-serif"},
      "encoding": {
        "x": {"datum": {"year":2025,"month":4,"date":4,"utc":true}, "type": "temporal"},
        "y": {"field": "v", "type": "quantitative", "title": null},
        "text": {"field": "t"}
      }
    }
  ]
}
